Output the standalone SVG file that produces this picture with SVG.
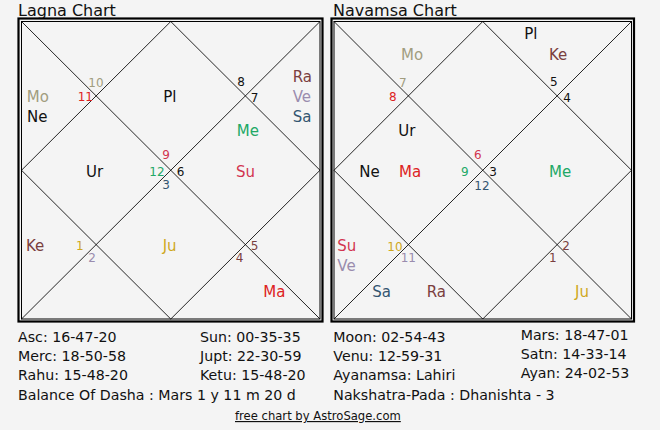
<svg xmlns="http://www.w3.org/2000/svg" width="660" height="430" viewBox="0 0 660 430">
<style>
text{font-family:"DejaVu Sans","Liberation Sans",sans-serif;fill:#111}
.t{font-size:16px}
.p{font-size:15px}
.n{font-size:12px}
.b{font-size:14.2px}
.f{font-size:11.6px;text-decoration:underline}
.outer{fill:none;stroke:#000;stroke-width:2.2}
.inner{fill:none;stroke:#000;stroke-width:1}
.ln{stroke:#000;stroke-width:0.85;fill:none}
.mo{fill:#a19d7f}.rd{fill:#dd2222}.pk{fill:#d2344f}.gr{fill:#22a866}.sl{fill:#335570}.lv{fill:#9a8cae}.br{fill:#7a3f3f}.gd{fill:#cfa81d}.bk{fill:#111}
</style>
<rect width="660" height="430" fill="#f4f4f4"/>
<g id="lagna-chart">
<text class="t" x="18" y="16">Lagna Chart</text>
<rect class="outer" x="18.5" y="18.5" width="304" height="303"/>
<rect class="inner" x="21.5" y="21.5" width="298.5" height="297.5"/>
<g id="lagna-lines" class="ln">
<line x1="21.5" y1="21.5" x2="320" y2="319"/>
<line x1="320" y1="21.5" x2="21.5" y2="319"/>
<polygon points="170.75,21.5 320,170.25 170.75,319 21.5,170.25"/>
</g>
<g id="lagna-labels">
<text class="p mo" x="26.7" y="101.7">Mo</text>
<text class="p bk" x="27" y="121.7">Ne</text>
<text class="n mo" x="88.3" y="87.3">10</text>
<text class="n rd" x="77.7" y="100.7">11</text>
<text class="p bk" x="163.3" y="101.7">Pl</text>
<text class="n bk" x="237.3" y="85.7">8</text>
<text class="n bk" x="250.7" y="101.7">7</text>
<text class="p br" x="292.7" y="81.7">Ra</text>
<text class="p lv" x="292.7" y="101.7">Ve</text>
<text class="p sl" x="292.7" y="121.7">Sa</text>
<text class="p gr" x="236.7" y="135.7">Me</text>
<text class="n pk" x="162.3" y="159.3">9</text>
<text class="p bk" x="86" y="176.7">Ur</text>
<text class="n gr" x="149.3" y="175.7">12</text>
<text class="n bk" x="176.7" y="175.7">6</text>
<text class="n sl" x="162.3" y="189.3">3</text>
<text class="p pk" x="236" y="176.7">Su</text>
<text class="p br" x="26" y="251">Ke</text>
<text class="n gd" x="76" y="250">1</text>
<text class="n lv" x="88.3" y="261.7">2</text>
<text class="p gd" x="162.7" y="251">Ju</text>
<text class="n br" x="250.7" y="250">5</text>
<text class="n br" x="235.7" y="261.7">4</text>
<text class="p rd" x="263.3" y="297.3">Ma</text>
</g>
</g>
<g id="navamsa-chart">
<text class="t" x="333" y="16">Navamsa Chart</text>
<rect class="outer" x="331.5" y="18.5" width="302.5" height="303"/>
<rect class="inner" x="334" y="21.5" width="297.5" height="297.5"/>
<g id="navamsa-lines" class="ln">
<line x1="334" y1="21.5" x2="631.5" y2="319"/>
<line x1="631.5" y1="21.5" x2="334" y2="319"/>
<polygon points="482.75,21.5 631.5,170.25 482.75,319 334,170.25"/>
</g>
<g id="navamsa-labels">
<text class="p bk" x="524.3" y="39.3">Pl</text>
<text class="p mo" x="401" y="60">Mo</text>
<text class="p br" x="549" y="60">Ke</text>
<text class="n mo" x="399" y="87.3">7</text>
<text class="n rd" x="389" y="101">8</text>
<text class="n bk" x="550" y="85.7">5</text>
<text class="n bk" x="563.3" y="101.7">4</text>
<text class="p bk" x="398.3" y="135.7">Ur</text>
<text class="n pk" x="474" y="159.3">6</text>
<text class="p bk" x="359.3" y="176.7">Ne</text>
<text class="p rd" x="399" y="176.7">Ma</text>
<text class="n gr" x="461" y="175.5">9</text>
<text class="n bk" x="489.3" y="175.5">3</text>
<text class="n sl" x="474.3" y="190">12</text>
<text class="p gr" x="549" y="176.7">Me</text>
<text class="p pk" x="337.3" y="251">Su</text>
<text class="p lv" x="337.3" y="271">Ve</text>
<text class="n gd" x="387.3" y="250.7">10</text>
<text class="n lv" x="400.7" y="261.7">11</text>
<text class="n br" x="562.3" y="250">2</text>
<text class="n br" x="549" y="261.7">1</text>
<text class="p sl" x="372.3" y="297.3">Sa</text>
<text class="p br" x="426.7" y="297.3">Ra</text>
<text class="p gd" x="575" y="297.3">Ju</text>
</g>
</g>
<g id="details">
<text class="b" x="18" y="341.7">Asc: 16-47-20</text>
<text class="b" x="200" y="341.7">Sun: 00-35-35</text>
<text class="b" x="18" y="360.5">Merc: 18-50-58</text>
<text class="b" x="200" y="360.5">Jupt: 22-30-59</text>
<text class="b" x="18" y="379.5">Rahu: 15-48-20</text>
<text class="b" x="200" y="379.5">Ketu: 15-48-20</text>
<text class="b" x="18" y="400">Balance Of Dasha : Mars 1 y 11 m 20 d</text>
<text class="b" x="333.3" y="341.7">Moon: 02-54-43</text>
<text class="b" x="520.7" y="340">Mars: 18-47-01</text>
<text class="b" x="333.3" y="360.5">Venu: 12-59-31</text>
<text class="b" x="520.7" y="359.3">Satn: 14-33-14</text>
<text class="b" x="333.3" y="379.5">Ayanamsa: Lahiri</text>
<text class="b" x="520.7" y="377.7">Ayan: 24-02-53</text>
<text class="b" x="333.3" y="400">Nakshatra-Pada : Dhanishta - 3</text>
<text class="f" x="235" y="420">free chart by AstroSage.com</text>
</g>
</svg>
